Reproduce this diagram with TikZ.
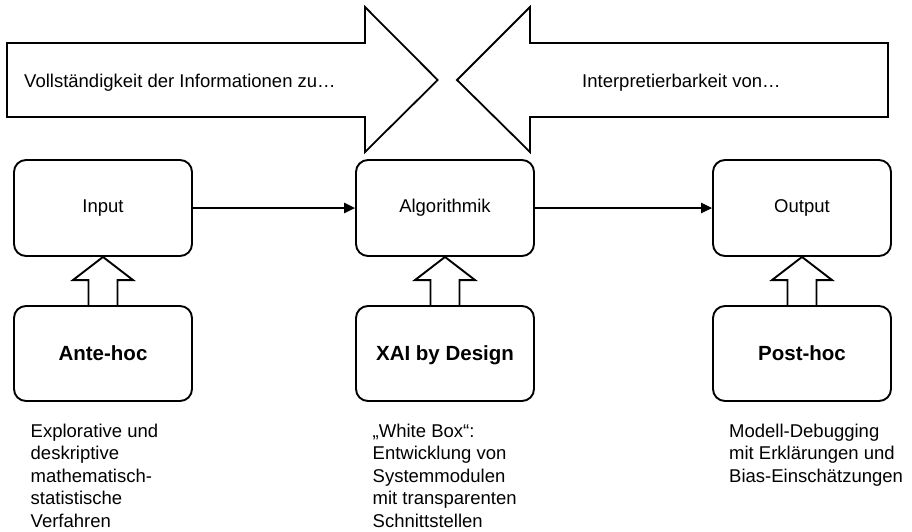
\documentclass[tikz,border=0pt]{standalone}
\usepackage{fontspec}
\setmainfont{Liberation Sans}
\usetikzlibrary{arrows.meta,calc}
\begin{document}
\begin{tikzpicture}[x=1pt,y=-1pt,
  box/.style={draw,line width=1.9pt,rounded corners=12pt,minimum width=178pt,inner sep=0pt},
  toprow/.style={box,minimum height=96pt,font=\fontsize{18.5}{22}\selectfont,text height=13pt,text depth=4.8pt},
  botrow/.style={box,minimum height=95pt,font=\fontsize{20.5}{24}\selectfont\bfseries,text height=14.5pt,text depth=0pt},
  bigarrow/.style={draw,line width=1.8pt,line join=miter},
  blockarrow/.style={draw,line width=1.9pt,line join=miter},
  flow/.style={draw,line width=1.4pt,-{Triangle[length=11pt,width=10.5pt]}},
  arrowtext/.style={anchor=base west,inner sep=0pt,font=\fontsize{18.5}{22}\selectfont},
  desc/.style={anchor=north west,inner sep=0pt,align=left,font=\fontsize{18.5}{22.5}\selectfont}]
\useasboundingbox (0,0) rectangle (912,531);

% big arrows
\draw[bigarrow] (7,43) -- (365,43) -- (365,7) -- (437.7,80) -- (365,152) -- (365,117) -- (7,117) -- cycle;
\draw[bigarrow] (888,43) -- (530,43) -- (530,7) -- (457,80) -- (530,152) -- (530,117) -- (888,117) -- cycle;
\node[arrowtext] (topL) at (24,87) {Vollständigkeit der Informationen zu…};
\node[arrowtext] (topR) at (582,87) {Interpretierbarkeit von…};

% boxes
\node[toprow] (input)  at (103,208) {Input};
\node[toprow] (algo)   at (445,208) {Algorithmik};
\node[toprow] (output) at (802,208) {Output};
\node[botrow] (ante) at (103,353.5) {Ante-hoc};
\node[botrow] (xai)  at (445,353.5) {XAI by Design};
\node[botrow] (post) at (802,353.5) {Post-hoc};

% connectors
\draw[flow] (input.east) -- (algo.west);
\draw[flow] (algo.east) -- (output.west);

% block arrows
\foreach \a/\b in {ante/input, xai/algo, post/output}{
  \draw[blockarrow] ($(\a.north)+(-14.5,0)$) -- ($(\a.north)+(-14.5,-25)$) -- ($(\a.north)+(-30,-25)$)
    -- (\b.south) -- ($(\a.north)+(30,-25)$) -- ($(\a.north)+(14.5,-25)$) -- ($(\a.north)+(14.5,0)$);
}

% descriptions
\node[desc] (tA) at (30.5,423.5) {Explorative und\\deskriptive\\mathematisch-\\statistische\\Verfahren};
\node[desc] (tX) at (372.5,423.5) {„White Box“:\\Entwicklung von\\Systemmodulen\\mit transparenten\\Schnittstellen};
\node[desc] (tP) at (729,423.5) {Modell-Debugging\\mit Erklärungen und\\Bias-Einschätzungen};
\end{tikzpicture}
\end{document}
